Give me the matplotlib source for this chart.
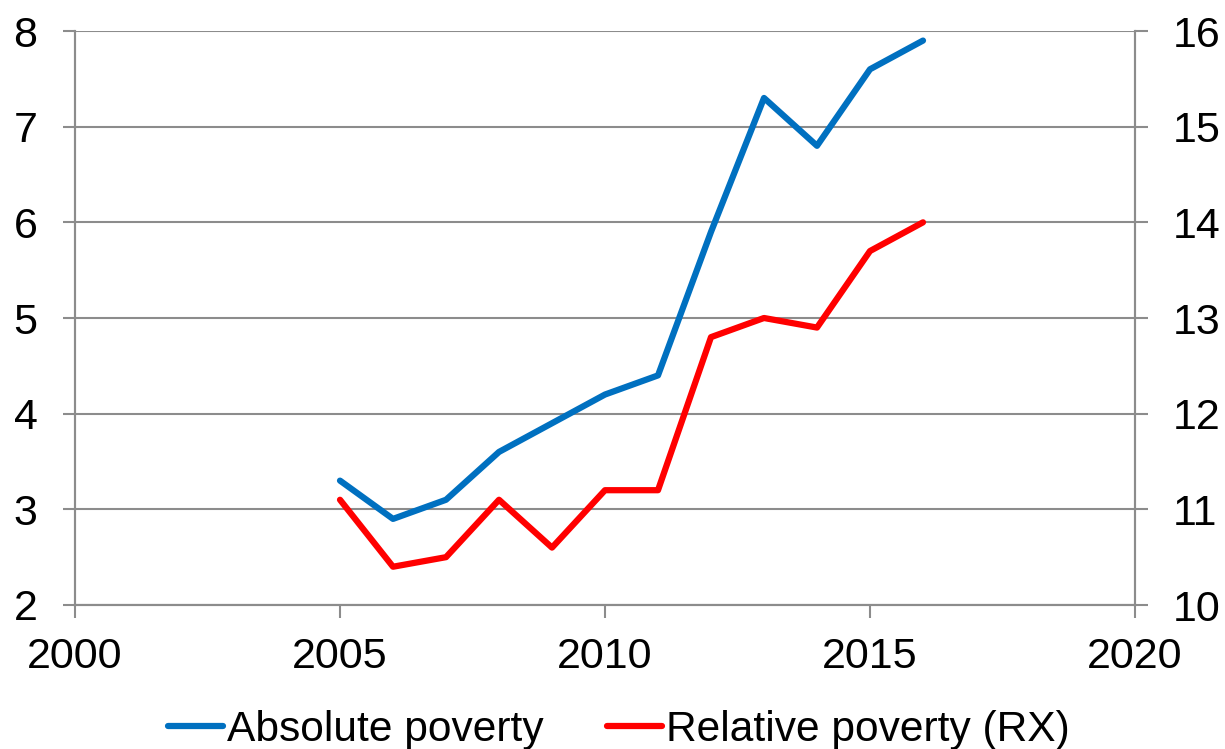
import matplotlib.pyplot as plt

plt.rcParams['font.family'] = ['Liberation Sans', 'DejaVu Sans']

# ─────────────────────────────────────────
# data
# ─────────────────────────────────────────
years = [2005, 2006, 2007, 2008, 2009, 2010, 2011, 2012, 2013, 2014, 2015, 2016]
absolute_poverty = [3.3, 2.9, 3.1, 3.6, 3.9, 4.2, 4.4, 5.9, 7.3, 6.8, 7.6, 7.9]
relative_poverty = [11.1, 10.4, 10.5, 11.1, 10.6, 11.2, 11.2, 12.8, 13.0, 12.9, 13.7, 14.0]

x_ticks = [2000, 2005, 2010, 2015, 2020]
left_ticks = [2, 3, 4, 5, 6, 7, 8]
right_ticks = [10, 11, 12, 13, 14, 15, 16]

grey = '#8c8c8c'

fig = plt.figure(figsize=(12.25, 7.49), dpi=100)
ax = fig.add_axes([75 / 1225, 1 - 605 / 749, 1060 / 1225, 574 / 749])
ax2 = ax.twinx()

ax.plot(years, absolute_poverty, color='#0070c0', lw=4.5, solid_capstyle='round',
        solid_joinstyle='round', label='Absolute poverty', zorder=3)
ax2.plot(years, relative_poverty, color='#ff0000', lw=4.5, solid_capstyle='round',
         solid_joinstyle='round', label='Relative poverty (RX)')

ax.set_xlim(2000, 2020)
ax.set_ylim(2, 8)
ax2.set_ylim(10, 16)
ax.set_xticks(x_ticks)
ax.set_yticks(left_ticks)
ax2.set_yticks(right_ticks)

ax.grid(axis='y', color=grey, lw=1.5)
ax.set_axisbelow(True)

for a in (ax, ax2):
    a.spines['top'].set_visible(False)
    for s in ('left', 'right', 'bottom'):
        a.spines[s].set_color(grey)
        a.spines[s].set_linewidth(1.5)
    a.tick_params(colors=grey, labelcolor='black', labelsize=31, width=1.5, length=9)

ax.tick_params(axis='x', pad=14)
ax.tick_params(axis='y', pad=18)
ax2.tick_params(axis='y', pad=18)

# legend
h1, l1 = ax.get_legend_handles_labels()
h2, l2 = ax2.get_legend_handles_labels()
fig.legend(h1 + h2, l1 + l2, loc='lower center', bbox_to_anchor=(0.505, -0.052), ncol=2,
           frameon=False, fontsize=30.6, handlelength=1.3, handletextpad=0.08,
           columnspacing=1.5)

fig.savefig('out.png', dpi=100)
